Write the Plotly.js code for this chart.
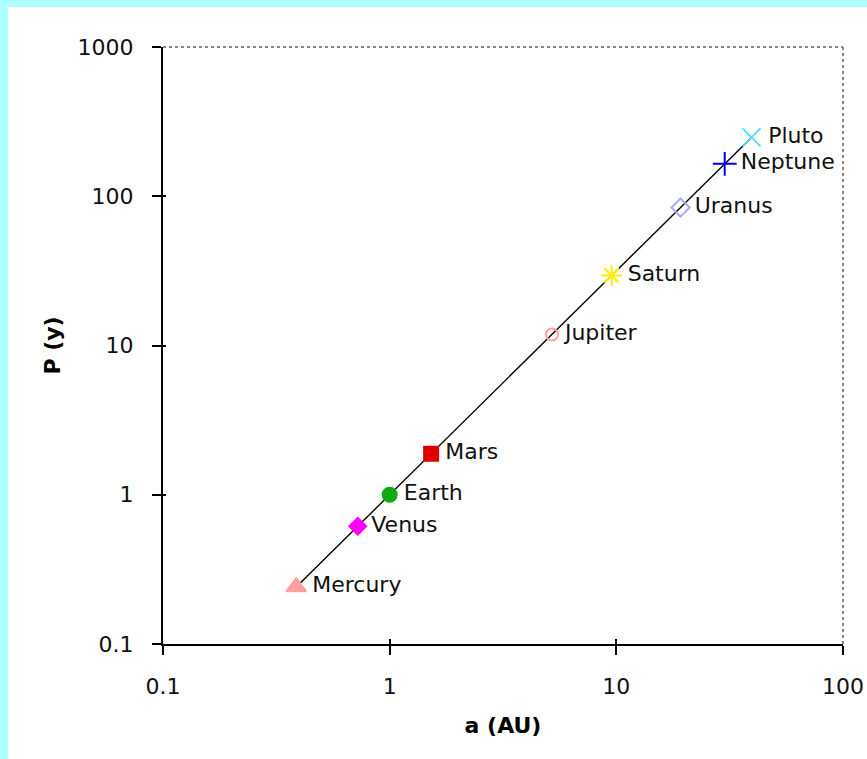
<!DOCTYPE html>
<html>
<head>
<meta charset="utf-8">
<script src="https://cdn.plot.ly/plotly-3.0.1.min.js"></script>
<style>html,body{margin:0;padding:0;background:#fff;}#chart{width:867px;height:759px;}</style>
</head>
<body>
<div id="chart"></div>
<script>
// Planet data (semi-major axis in AU, orbital period in years)
const planets = ["Mercury", "Venus", "Earth", "Mars", "Jupiter", "Saturn", "Uranus", "Neptune", "Pluto"];
const semiMajorAxis = [0.387, 0.723, 1.0, 1.524, 5.203, 9.537, 19.19, 30.07, 39.48];
const periodYears = [0.241, 0.615, 1.0, 1.881, 11.86, 29.46, 84.01, 164.8, 247.9];
const xTickVals = [0.1, 1, 10, 100];
const xTickText = ["0.1", "1", "10", "100"];
const yTickVals = [0.1, 1, 10, 100, 1000];
const yTickText = ["0.1", "1", "10", "100", "1000"];

const markerStyles = [
  {symbol: "triangle-up", color: "#ff9f9f", size: 17},
  {symbol: "diamond", color: "#ff00ff", size: 13},
  {symbol: "circle", color: "#11aa11", size: 14},
  {symbol: "square", color: "#dd0000", size: 14},
  {symbol: "circle-open", color: "#ff9f9f", size: 12},
  {symbol: "asterisk-open", color: "#ffee00", size: 17},
  {symbol: "diamond-open", color: "#aaaaff", size: 14},
  {symbol: "cross-thin-open", color: "#0000ee", size: 17},
  {symbol: "x-thin-open", color: "#55ddff", size: 18}
];

const traces = [{
  x: semiMajorAxis, y: periodYears, mode: "lines", type: "scatter",
  line: {color: "#000", width: 1.4}, hoverinfo: "skip", showlegend: false
}];
planets.forEach((p, i) => {
  const s = markerStyles[i];
  traces.push({
    x: [semiMajorAxis[i]], y: [periodYears[i]], mode: "markers+text", type: "scatter",
    name: p, text: ["\u2009" + p], textposition: "middle right",
    textfont: {family: "DejaVu Sans", size: 22, color: "#111"},
    marker: {symbol: s.symbol, color: s.color, size: s.size, line: {color: s.color, width: 2}},
    cliponaxis: false, showlegend: false
  });
});

const axisCommon = {
  showgrid: false, zeroline: false, showline: true, linecolor: "#000", linewidth: 2,
  ticks: "outside", ticklen: 9, tickwidth: 2, tickcolor: "#000",
  tickfont: {family: "DejaVu Sans", size: 22, color: "#111"},
  automargin: false
};

const layout = {
  width: 867, height: 759,
  margin: {l: 163, r: 24, t: 47, b: 115},
  paper_bgcolor: "#aeffff",
  plot_bgcolor: "#ffffff",
  showlegend: false,
  xaxis: Object.assign({}, axisCommon, {
    type: "log", range: [-1, 2], tickvals: xTickVals, ticktext: xTickText,
    ticklabelstandoff: 13,
    title: {text: "a (AU)", font: {family: "DejaVu Sans", size: 22, color: "#000", weight: "bold"}, standoff: 19}
  }),
  yaxis: Object.assign({}, axisCommon, {
    type: "log", range: [-1, 3], tickvals: yTickVals, ticktext: yTickText,
    ticklabelstandoff: 14,
    title: {text: "P (y)", font: {family: "DejaVu Sans", size: 22, color: "#000", weight: "bold"}, standoff: 11}
  }),
  xaxis2: {type: "log", range: [-1, 2], tickvals: xTickVals, showticklabels: false, overlaying: "x",
    side: "bottom", anchor: "y", showgrid: false, zeroline: false, showline: false,
    ticks: "inside", ticklen: 5, tickwidth: 2, tickcolor: "#000", automargin: false},
  yaxis2: {type: "log", range: [-1, 3], tickvals: yTickVals, showticklabels: false, overlaying: "y",
    side: "left", anchor: "x", showgrid: false, zeroline: false, showline: false,
    ticks: "inside", ticklen: 3, tickwidth: 2, tickcolor: "#000", automargin: false},
  shapes: [
    {type: "rect", xref: "paper", yref: "paper", x0: -163/680 + 8/680, x1: 1 + 24/680 + 0.01, y0: -115/597 - 0.01, y1: 1 + 47/597 - 7/597,
     fillcolor: "#ffffff", line: {width: 0}, layer: "below"},
    {type: "line", xref: "paper", yref: "paper", x0: 0, x1: 1, y0: 1, y1: 1, line: {color: "#888", width: 2, dash: "dot"}},
    {type: "line", xref: "paper", yref: "paper", x0: 1, x1: 1, y0: 0, y1: 1, line: {color: "#888", width: 2, dash: "dot"}}
  ]
};

// invisible helper trace so the overlay axes are drawn
traces.push({x: [semiMajorAxis[0]], y: [periodYears[0]], xaxis: "x2", yaxis: "y2", mode: "markers",
  marker: {opacity: 0}, hoverinfo: "skip", showlegend: false});

Plotly.newPlot("chart", traces, layout, {displayModeBar: false, staticPlot: true});
</script>
</body>
</html>
